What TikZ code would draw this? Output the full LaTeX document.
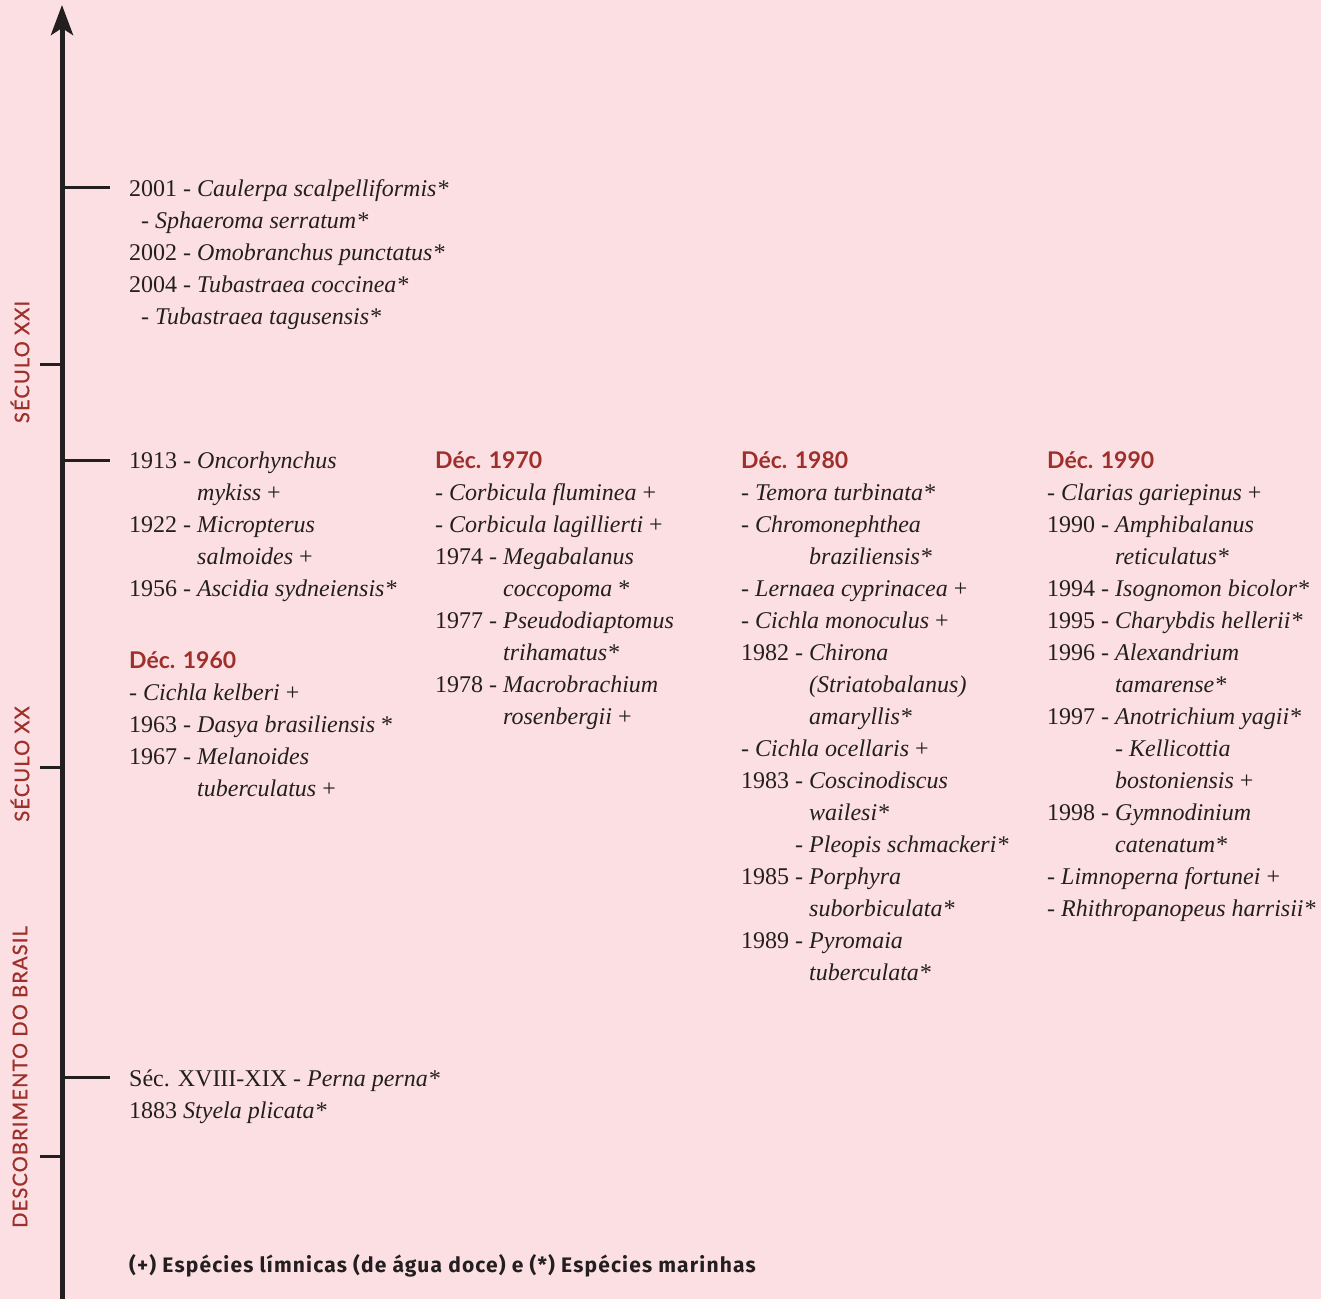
\documentclass[tikz,border=0pt]{standalone}
\usepackage{fontspec}
\setmainfont{Liberation Serif}
\newfontfamily\decadefont{Lato}
\newfontfamily\erafont[LetterSpace=6,FakeBold=1]{Lato}
\newfontfamily\notefont[LetterSpace=5.5]{Fira Sans}
\usetikzlibrary{arrows.meta}

\definecolor{paper}{HTML}{FCDFE2}
\definecolor{ink}{HTML}{231F20}
\definecolor{rubric}{HTML}{9E2F2B}

\newcommand\yr[1]{#1 -\kern.25em}
\newcommand\wholeline[1]{\multicolumn{2}{@{}l@{}}{#1}}
\newcommand\sideline[1]{\multicolumn{2}{@{\hspace{12pt}}l@{}}{#1}}

\tikzset{
  entry/.style={anchor=base west, inner sep=0pt, text=ink, font=\fontsize{24}{32}\selectfont},
  decade/.style={anchor=base west, inner sep=0pt, text=rubric, font=\decadefont\bfseries\fontsize{23}{28}\selectfont},
  era/.style={rotate=90, inner sep=0pt, text=rubric, font=\erafont\fontsize{20}{24}\selectfont},
  tick/.style={draw=ink, line width=3pt},
}

\begin{document}
\begin{tikzpicture}[x=1pt,y=-1pt]
\useasboundingbox (0,0) rectangle (1321,1299);
\fill[paper] (0,0) rectangle (1321,1299);

% time axis
\coordinate (base) at (62,1299);
\coordinate (top) at (62,5);
\draw[ink, line width=5pt, -{Stealth[length=30pt,width=22pt,inset=7pt]}] (base) -- (top);
\foreach \y in {187,460,1077}
    \draw[tick] (62,\y) -- (110,\y);
\foreach \y in {364,767,1156}
    \draw[tick] (40,\y) -- (62,\y);

\node[era] (xxi) at (20,362) {SÉCULO XXI};
\node[era] (xx) at (20,764) {SÉCULO XX};
\node[era] (brasil) at (20,1077) {DESCOBRIMENTO DO BRASIL};

% 21st century
\node[entry] (list2000) at (129,196) {\begin{tabular}[t]{@{}l@{}l@{}}
\yr{2001} & \textit{Caulerpa scalpelliformis*}\\
\sideline{- \textit{Sphaeroma serratum*}}\\
\yr{2002} & \textit{Omobranchus punctatus*}\\
\yr{2004} & \textit{Tubastraea coccinea*}\\
\sideline{- \textit{Tubastraea tagusensis*}}
\end{tabular}};

% 20th century
\node[entry] (list1900) at (129,468) {\begin{tabular}[t]{@{}l@{}l@{}}
\yr{1913} & \textit{Oncorhynchus}\\
 & \textit{mykiss} +\\
\yr{1922} & \textit{Micropterus}\\
 & \textit{salmoides} +\\
\yr{1956} & \textit{Ascidia sydneiensis*}
\end{tabular}};

\node[decade] (d1960) at (129,668) {Déc. 1960};
\node[entry] (list1960) at ([yshift=-32pt]d1960.base west) {\begin{tabular}[t]{@{}l@{}l@{}}
\wholeline{- \textit{Cichla kelberi} +}\\
\yr{1963} & \textit{Dasya brasiliensis} *\\
\yr{1967} & \textit{Melanoides}\\
 & \textit{tuberculatus} +
\end{tabular}};

\node[decade] (d1970) at (435,468) {Déc. 1970};
\node[entry] (list1970) at ([yshift=-32pt]d1970.base west) {\begin{tabular}[t]{@{}l@{}l@{}}
\wholeline{- \textit{Corbicula fluminea} +}\\
\wholeline{- \textit{Corbicula lagillierti} +}\\
\yr{1974} & \textit{Megabalanus}\\
 & \textit{coccopoma} *\\
\yr{1977} & \textit{Pseudodiaptomus}\\
 & \textit{trihamatus*}\\
\yr{1978} & \textit{Macrobrachium}\\
 & \textit{rosenbergii} +
\end{tabular}};

\node[decade] (d1980) at (741,468) {Déc. 1980};
\node[entry] (list1980) at ([yshift=-32pt]d1980.base west) {\begin{tabular}[t]{@{}l@{}l@{}}
\wholeline{- \textit{Temora turbinata*}}\\
\wholeline{- \textit{Chromonephthea}}\\
 & \textit{braziliensis*}\\
\wholeline{- \textit{Lernaea cyprinacea} +}\\
\wholeline{- \textit{Cichla monoculus} +}\\
\yr{1982} & \textit{Chirona}\\
 & \textit{(Striatobalanus)}\\
 & \textit{amaryllis*}\\
\wholeline{- \textit{Cichla ocellaris} +}\\
\yr{1983} & \textit{Coscinodiscus}\\
 & \textit{wailesi*}\\
 & \llap{- }\textit{Pleopis schmackeri*}\\
\yr{1985} & \textit{Porphyra}\\
 & \textit{suborbiculata*}\\
\yr{1989} & \textit{Pyromaia}\\
 & \textit{tuberculata*}
\end{tabular}};

\node[decade] (d1990) at (1047,468) {Déc. 1990};
\node[entry] (list1990) at ([yshift=-32pt]d1990.base west) {\begin{tabular}[t]{@{}l@{}l@{}}
\wholeline{- \textit{Clarias gariepinus} +}\\
\yr{1990} & \textit{Amphibalanus}\\
 & \textit{reticulatus*}\\
\yr{1994} & \textit{Isognomon bicolor*}\\
\yr{1995} & \textit{Charybdis hellerii*}\\
\yr{1996} & \textit{Alexandrium}\\
 & \textit{tamarense*}\\
\yr{1997} & \textit{Anotrichium yagii*}\\
 & - \textit{Kellicottia}\\
 & \textit{bostoniensis} +\\
\yr{1998} & \textit{Gymnodinium}\\
 & \textit{catenatum*}\\
\wholeline{- \textit{Limnoperna fortunei} +}\\
\wholeline{- \textit{Rhithropanopeus harrisii*}}
\end{tabular}};

% before 1900
\node[entry] (list1800) at (129,1086) {\begin{tabular}[t]{@{}l@{}}
Séc. XVIII-XIX - \textit{Perna perna*}\\
1883 \textit{Styela plicata*}
\end{tabular}};

\node[anchor=base west, inner sep=0pt, text=ink, font=\notefont\bfseries\fontsize{21}{24}\selectfont] (legend) at (129,1272)
    {(+) Espécies límnicas (de água doce) e (*) Espécies marinhas};
\end{tikzpicture}
\end{document}
